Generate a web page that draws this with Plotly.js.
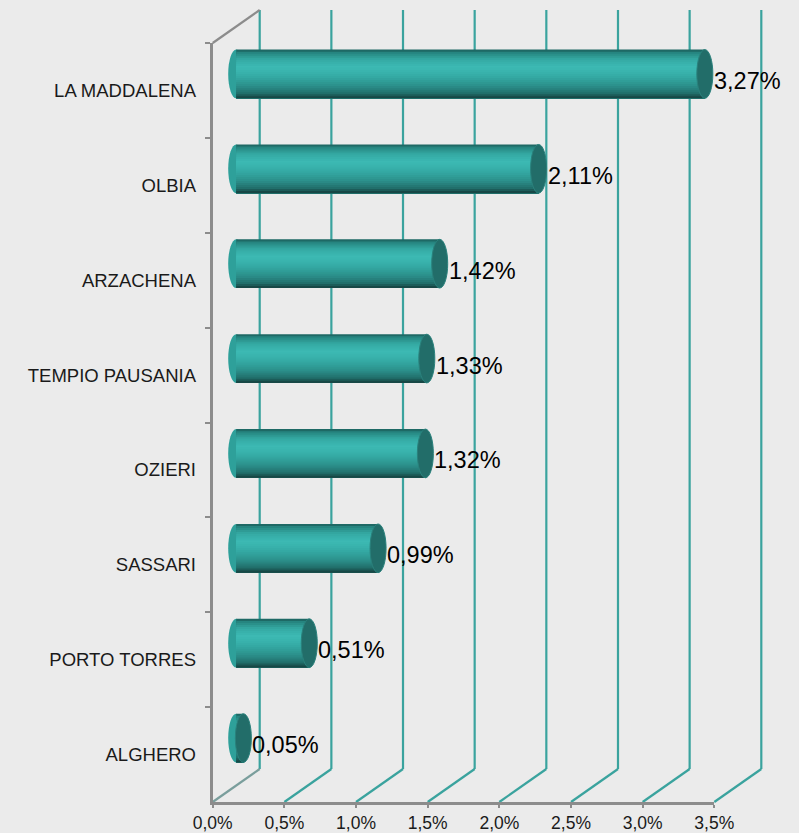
<!DOCTYPE html>
<html>
<head>
<meta charset="utf-8">
<script src="https://cdn.plot.ly/plotly-3.0.1.min.js"></script>
<style>html,body{margin:0;padding:0;background:#ebebeb;}#chart{width:799px;height:833px;}</style>
</head>
<body>
<div id="chart"></div>
<script>
// ---- data ----
const categories = ['LA MADDALENA','OLBIA','ARZACHENA','TEMPIO PAUSANIA','OZIERI','SASSARI','PORTO TORRES','ALGHERO'];
const values = [3.27, 2.11, 1.42, 1.33, 1.32, 0.99, 0.51, 0.05];
const tickValues = [0, 0.5, 1.0, 1.5, 2.0, 2.5, 3.0, 3.5];
const tickLabels = ['0,0%','0,5%','1,0%','1,5%','2,0%','2,5%','3,0%','3,5%'];

// ---- geometry (pixels) ----
const W = 799, H = 833;
const FRONT_X0 = 212.7, FRONT_X1 = 714.3;   // front plane value axis
const FRONT_Y0 = 43, FRONT_Y1 = 802;        // front plane category axis
const DX = 47, DY = -33;                    // depth offset of back wall
const halfDX = DX / 2, halfDY = DY / 2;
const BAR_W = 0.513;
const CAP_RX = 8;
const VMIN = 0, VMAX = 3.5;

const px2x = p => p / W;
const px2y = p => 1 - p / H;

// bar axis spans full width so nothing is clipped; range chosen so VMIN/VMAX land mid-depth
const pxPerUnit = (FRONT_X1 - FRONT_X0) / (VMAX - VMIN);
const barX0 = FRONT_X0 + halfDX;
const barRange = [VMIN - barX0 / pxPerUnit, VMIN + (W - barX0) / pxPerUnit];

// gradient for cylinder body (top -> bottom)
const stops = [
  [0.00, '#1a5a57'], [0.06, '#26847f'], [0.20, '#34a9a3'], [0.36, '#3dbab4'],
  [0.55, '#35aba5'], [0.75, '#2b8f8a'], [0.90, '#216e6a'], [1.00, '#143e3c']
];
function hex2rgb(h){return [1,3,5].map(i=>parseInt(h.substr(i,2),16));}
function grad(t){
  for(let i=0;i<stops.length-1;i++){
    const [a,ca]=stops[i],[b,cb]=stops[i+1];
    if(t>=a && t<=b){
      const f=(t-a)/(b-a), A=hex2rgb(ca), B=hex2rgb(cb);
      return 'rgb('+A.map((v,k)=>Math.round(v+(B[k]-v)*f)).join(',')+')';
    }
  }
  return stops[stops.length-1][1];
}

const traces = [];
const N = 24;
const sw = BAR_W / N;
for (let i = 0; i < N; i++) {
  traces.push({
    type: 'bar', orientation: 'h',
    x: values, y: categories,
    xaxis: 'x', yaxis: 'y',
    width: BAR_W - i*sw, offset: -BAR_W/2 + i*sw,
    marker: {color: grad((i+0.5)/N), line: {width: 0}},
    hoverinfo: 'skip', showlegend: false
  });
}
// invisible trace to populate front category axis
traces.push({
  type: 'scatter', mode: 'markers', x: values, y: categories,
  xaxis: 'x2', yaxis: 'y2', marker: {opacity: 0}, hoverinfo: 'skip', showlegend: false
});

const shapes = [];
const backTop = px2y(FRONT_Y0 + DY);
const backBot = px2y(FRONT_Y1 + DY);
const frontBot = px2y(FRONT_Y1);
const frontTop = px2y(FRONT_Y0);
tickValues.forEach((t, k) => {
  shapes.push({type:'line', layer:'below', xref:'x', yref:'paper', xsizemode:'pixel', xanchor:t,
    x0: halfDX, x1: halfDX, y0: backBot, y1: backTop, line:{color:'#3aa39e', width:2.2}});
  shapes.push({type:'line', layer:'below', xref:'x', yref:'paper', xsizemode:'pixel', xanchor:t,
    x0: halfDX, x1: -halfDX, y0: backBot, y1: frontBot, line:{color: k===0 ? '#7a9e9c' : '#3aa39e', width:2.2}});
});
shapes.push({type:'line', layer:'below', xref:'x', yref:'paper', xsizemode:'pixel', xanchor:0,
  x0: -halfDX, x1: halfDX, y0: frontTop, y1: backTop, line:{color:'#8c8c8c', width:2.2}});

// cylinder ends
values.forEach((v, i) => {
  shapes.push({type:'circle', layer:'below', xref:'x', yref:'y', xsizemode:'pixel', xanchor:0,
    x0: -CAP_RX, x1: CAP_RX, y0: i - BAR_W/2, y1: i + BAR_W/2,
    fillcolor:'#2ea09a', line:{width:0}});
  shapes.push({type:'circle', layer:'above', xref:'x', yref:'y', xsizemode:'pixel', xanchor:v,
    x0: -CAP_RX, x1: CAP_RX, y0: i - BAR_W/2, y1: i + BAR_W/2,
    fillcolor:'#226d69', line:{color:'#2a817c', width:1}});
});

const annotations = values.map((v, i) => ({
  xref:'x', yref:'y', x: v, y: i, xanchor:'left', yanchor:'middle',
  xshift: CAP_RX - 1, yshift: -7, showarrow:false,
  text: v.toFixed(2).replace('.', ',') + '%',
  font:{family:'Liberation Sans, Arial, sans-serif', size:23.5, color:'#000'}
}));

const layout = {
  width: W, height: H, autosize: false,
  margin: {l:0, r:0, t:0, b:0, pad:0},
  paper_bgcolor: '#ebebeb', plot_bgcolor: 'rgba(0,0,0,0)',
  barmode: 'overlay', showlegend: false,
  font: {family: 'Liberation Sans, Arial, sans-serif', color: '#1a1a1a'},
  xaxis: {domain:[0, 1], range: barRange, visible:false, fixedrange:true},
  yaxis: {domain:[px2y(FRONT_Y1+halfDY), px2y(FRONT_Y0+halfDY)], type:'category', categoryarray: categories,
          range:[categories.length-0.5, -0.5], visible:false, fixedrange:true},
  xaxis2: {domain:[px2x(FRONT_X0), px2x(FRONT_X1)], anchor:'y2', range:[VMIN, VMAX],
           tickmode:'array', tickvals: tickValues, ticktext: tickLabels,
           showgrid:false, zeroline:false, showline:true, linecolor:'#8c8c8c', linewidth:3,
           ticks:'outside', ticklen:3, tickwidth:2, tickcolor:'#8c8c8c', ticklabelstandoff: 0,
           tickfont:{size:17.5, color:'#1a1a1a'}, fixedrange:true},
  yaxis2: {domain:[px2y(FRONT_Y1), px2y(FRONT_Y0)], anchor:'x2', type:'category', categoryarray: categories,
           range:[categories.length-0.5, -0.5], tickson:'boundaries',
           showgrid:false, zeroline:false, showline:true, linecolor:'#8c8c8c', linewidth:3,
           ticks:'outside', ticklen:5, tickwidth:2, tickcolor:'#8c8c8c', ticklabelstandoff: 10,
           tickfont:{size:18.5, color:'#1a1a1a'}, fixedrange:true},
  shapes: shapes,
  annotations: annotations
};

Plotly.newPlot('chart', traces, layout, {displayModeBar:false, staticPlot:true});
</script>
</body>
</html>
